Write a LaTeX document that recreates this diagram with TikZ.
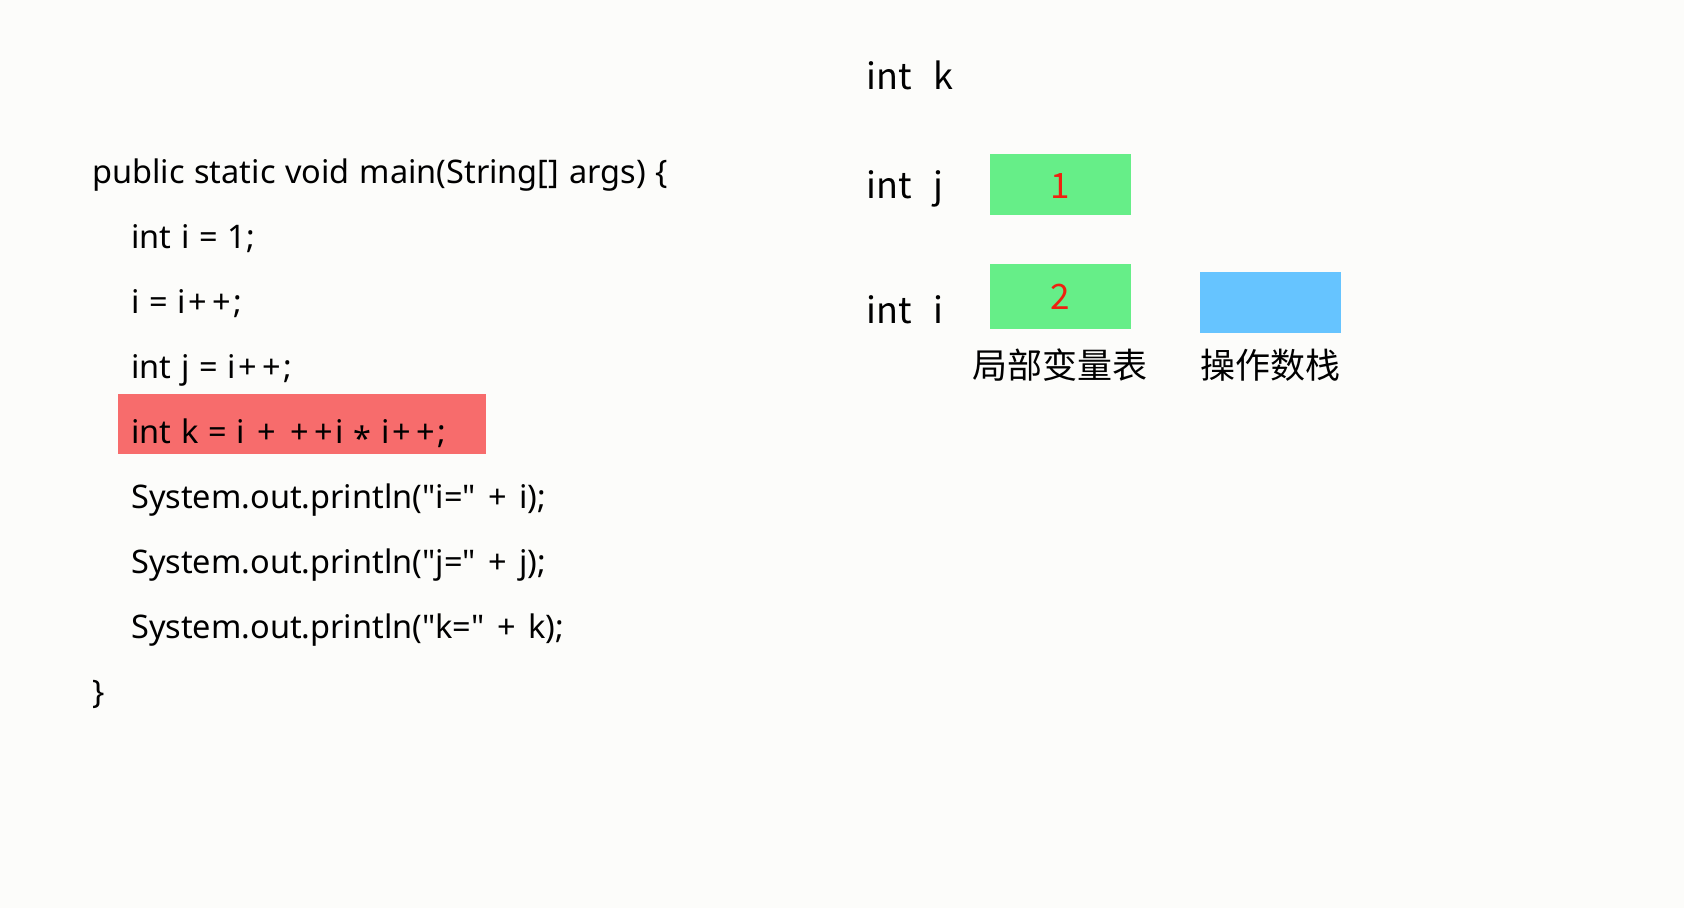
\documentclass[tikz,border=0pt]{standalone}
\usepackage{fontspec}
\setmainfont{Noto Sans CJK SC}
\newfontfamily\codefont{Noto Sans}
\newcommand{\codesetup}{\codefont\fontsize{32.5}{32.5}\selectfont\spaceskip=0.3em plus 0pt minus 0pt\relax}
\newcommand{\dq}{\char"22\relax}
\newcommand{\pl}{\kern0.08em+\kern0.08em}
\newcommand{\lowstar}{\raisebox{-0.22em}{*}}
\definecolor{pagebg}{HTML}{FCFCFA}
\definecolor{hlred}{HTML}{F76C6C}
\definecolor{slotgreen}{HTML}{66EE88}
\definecolor{stackblue}{HTML}{66C4FF}
\definecolor{valred}{HTML}{F02010}
\begin{document}
\begin{tikzpicture}[x=1pt,y=-1pt,
  codeline/.style={anchor=base west,inner sep=0pt,font=\codesetup},
  varname/.style={anchor=base west,inner sep=0pt,font=\fontsize{36}{36}\selectfont},
  slot/.style={fill=slotgreen,draw=none},
  stackbox/.style={fill=stackblue,draw=none},
  slotval/.style={text=valred,font=\fontsize{35}{35}\selectfont,inner sep=0pt},
  caption/.style={anchor=base,inner sep=0pt,font=\fontsize{35}{35}\selectfont}]
\fill[pagebg] (0,0) rectangle (1684,908);
\useasboundingbox (0,0) rectangle (1684,908);

% highlighted statement
\fill[hlred] (118,394) rectangle (486,454);

% source code
\node[codeline] (l0) at (92,183) {public static void main(String[] args) \{};
\node[codeline] (l1) at (131,248) {int i = 1;};
\node[codeline] (l2) at (131,313) {i = i\pl\pl;};
\node[codeline] (l3) at (131,378) {int j = i\pl\pl;};
\node[codeline] (l4) at (131,443) {int k = i \pl\ \pl\pl i \lowstar\ i\pl\pl;};
\node[codeline] (l5) at (131,508) {System.out.println(\dq i=\dq\ \pl\ i);};
\node[codeline] (l6) at (131,573) {System.out.println(\dq j=\dq\ \pl\ j);};
\node[codeline] (l7) at (131,638) {System.out.println(\dq k=\dq\ \pl\ k);};
\node[codeline] (l8) at (92,703) {\}};

% local variable names
\node[varname] (vk) at (866,89) {int\hspace{0.6em}k};
\node[varname] (vj) at (866,198) {int\hspace{0.6em}j};
\node[varname] (vi) at (866,323) {int\hspace{0.6em}i};

% local variable table slots
\fill[slot] (990,154) rectangle (1131,215);
\node[slotval] (sj) at (1060.5,186) {1};
\fill[slot] (990,264) rectangle (1131,329);
\node[slotval] (si) at (1060.5,297) {2};

% operand stack
\fill[stackbox] (1200,272) rectangle (1341,333);

\node[caption] (cap1) at (1060,378) {局部变量表};
\node[caption] (cap2) at (1270,378) {操作数栈};
\end{tikzpicture}
\end{document}
